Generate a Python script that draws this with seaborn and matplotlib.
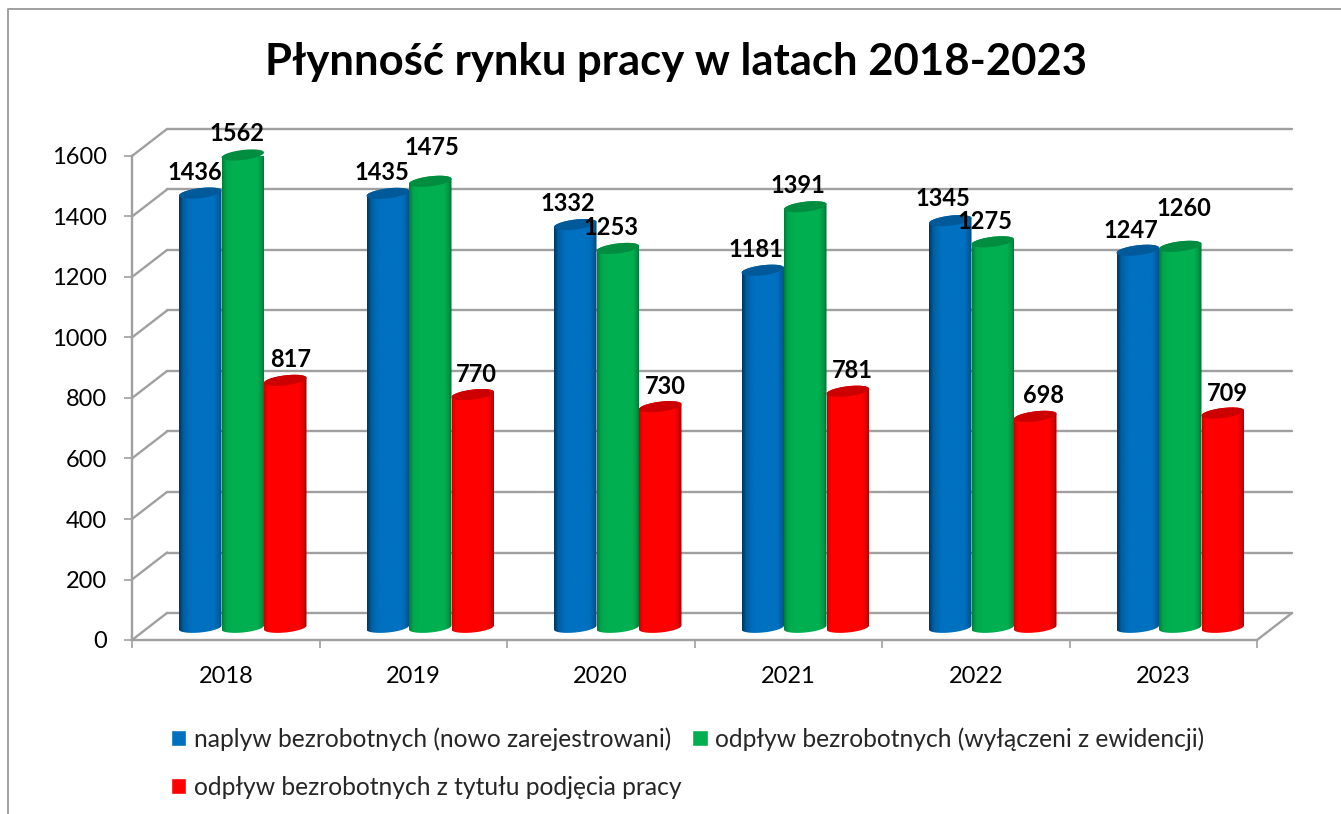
import numpy as np
import pandas as pd
import matplotlib
matplotlib.use('Agg')
import matplotlib.pyplot as plt
import seaborn as sns
from matplotlib.path import Path
from matplotlib.colors import to_rgb
from matplotlib.lines import Line2D

years = ['2018', '2019', '2020', '2021', '2022', '2023']
naplyw = [1436, 1435, 1332, 1181, 1345, 1247]
odplyw = [1562, 1475, 1253, 1391, 1275, 1260]
praca = [817, 770, 730, 781, 698, 709]
series_names = ['naplyw bezrobotnych (nowo zarejestrowani)',
                'odpływ bezrobotnych (wyłączeni z ewidencji)',
                'odpływ bezrobotnych z tytułu podjęcia pracy']
series_colors = ['#0070C0', '#00B050', '#FF0000']
left_edge = [0.5, 0.72, 0.82]
yticks = [0, 200, 400, 600, 800, 1000, 1200, 1400, 1600]

# label nudges in pixels, the picture moves a few of them by hand
nudge_x = [[-5, -6, -7, -7, -7, -7], [-6, 2, -7, -7, -8, 4], [5, 4, 5, 5, 8, 5]]
nudge_y = [[21, 21, 21, 21, 22, 20], [21, 34, 21, 21, 20, 38], [21, 20, 20, 21, 21, 20]]

W, H = 1341, 814
LEFT, RIGHT, BOTTOM, TOP = 132, 1257, 640, 156
GRID = '#a0a0a0'

sns.set_theme(style='white')
plt.rcParams['font.family'] = ['Lato', 'DejaVu Sans']

df = pd.DataFrame({'year': years * 3,
                   'serie': np.repeat(series_names, 6),
                   'value': naplyw + odplyw + praca})

fig = plt.figure(figsize=(W / 100, H / 100), dpi=100)
ax = fig.add_axes([LEFT / W, 1 - BOTTOM / H, (RIGHT - LEFT) / W, (BOTTOM - TOP) / H])

sns.barplot(data=df, x='year', y='value', hue='serie', hue_order=series_names,
            palette=series_colors, width=0.68, saturation=1, ax=ax, legend=True)

ax.set_xlim(-0.5, 5.5)
ax.set_ylim(0, 1600)
ax.set_xlabel('')
ax.set_ylabel('')

# pixels to data units
px = 6 / (RIGHT - LEFT)
py = 1600 / (BOTTOM - TOP)
back_x, back_y = 35 * px, 27 * py
mid_x, mid_y = 17 * px, 12.5 * py

# back wall, side wall and floor
for v in yticks:
    ax.plot([-0.5, -0.5 + back_x], [v, v + back_y], color=GRID, lw=1.7, clip_on=False, zorder=1)
    ax.plot([-0.5 + back_x, 5.5 + back_x], [v + back_y, v + back_y], color=GRID, lw=1.7,
            clip_on=False, zorder=1)
ax.plot([5.5, 5.5 + back_x], [0, back_y], color=GRID, lw=1.7, clip_on=False, zorder=1)


def shade(color, edge):
    t = np.linspace(0, 1, 64)
    k = np.interp(t, [0, 0.1, 0.28, 0.82, 0.93, 1], [edge, (edge + 1) / 2 + 0.1, 1, 1, 0.85, 0.62])
    return (np.array(to_rgb(color))[None, None, :] * k[None, :, None]).clip(0, 1)


def rim(cx, cy, half_w, half_h, tilt, start, stop):
    # ellipse arc of the cylinder, tilted a little to the right
    a = np.linspace(start, stop, 60)
    return np.column_stack([cx + half_w * np.cos(a),
                            cy + half_h * py * np.sin(a) + tilt * py * np.cos(a)])


for n, color in enumerate(series_colors):
    for i in range(len(years)):
        bar = ax.containers[n][i]
        x0 = bar.get_x() + mid_x
        w = bar.get_width()
        cx = x0 + w / 2
        top = bar.get_height() + mid_y
        base = mid_y
        hw = w / 2
        z = 3 + n + i * 0.01
        outline = np.vstack([rim(cx, base, hw, 5, 2, np.pi, 2 * np.pi),
                             rim(cx, top, hw, 5, 2.5, 0, np.pi)])
        im = ax.imshow(shade(color, left_edge[n]), extent=[x0, x0 + w, 0, top + 10 * py], aspect='auto',
                       interpolation='bilinear', zorder=z)
        im.set_clip_path(Path(np.vstack([outline, outline[:1]])), transform=ax.transData)
        cap = rim(cx, top, hw, 5, 2.5, 0, 2 * np.pi)
        ax.fill(cap[:, 0], cap[:, 1], color=tuple(np.array(to_rgb(color)) * 0.8), lw=0,
                clip_on=False, zorder=z + 0.001)
        ax.annotate(str(int(bar.get_height())), (cx, top), xytext=(nudge_x[n][i], nudge_y[n][i]),
                    textcoords='offset pixels', ha='center', va='center', fontsize=17,
                    fontweight='bold', color='black', annotation_clip=False, zorder=20)
    # the flat bar from seaborn stays only as legend colour
    for bar in ax.containers[n]:
        bar.set_visible(False)

ax.set_xlim(-0.5, 5.5)
ax.set_ylim(0, 1600)

sns.despine(ax=ax)
for s in ['left', 'bottom']:
    ax.spines[s].set_color(GRID)
    ax.spines[s].set_linewidth(1.7)
    ax.spines[s].set_zorder(2)

ax.set_yticks(yticks)
ax.tick_params(axis='y', left=True, length=5.8, width=1.2, color=GRID, pad=12, labelsize=17,
               labelcolor='black')
ax.set_xticks(range(len(years)), years)
ax.set_xticks(np.arange(-0.5, 6), minor=True)
ax.tick_params(axis='x', which='major', bottom=False, length=0, pad=19, labelsize=17, labelcolor='black')
ax.tick_params(axis='x', which='minor', bottom=True, length=5.8, width=1.2, color=GRID)

handles, labels = ax.get_legend_handles_labels()
order = [0, 2, 1]
for h in handles:
    h.set_visible(True)
leg = ax.legend([handles[k] for k in order], [labels[k] for k in order], ncol=2,
                loc='upper left', bbox_to_anchor=((171 - LEFT) / (RIGHT - LEFT), -0.18),
                frameon=False, fontsize=17.7, handlelength=0.62, handleheight=0.62,
                handletextpad=0.3, columnspacing=0.45, labelspacing=1.03, borderpad=0, borderaxespad=0)

fig.text(676 / W, 1 - 62 / H, 'Płynność rynku pracy w latach 2018-2023', ha='center', va='center',
         fontsize=31.4, fontweight='bold', color='black')

# chart frame, cut by the page on the right and at the bottom
fig.add_artist(Line2D([8 / W, 8 / W, 1], [0, 1 - 9 / H, 1 - 9 / H], color=GRID, lw=1.4))

fig.savefig('out.png', dpi=100)
